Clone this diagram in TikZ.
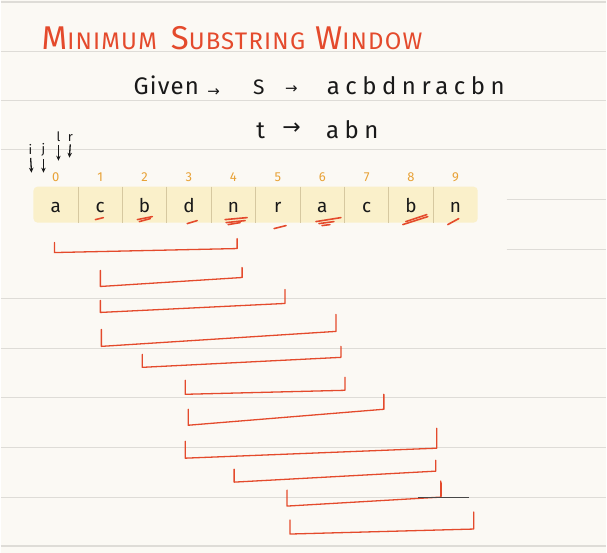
\documentclass[tikz,border=0pt]{standalone}
\usepackage{fontspec}
\setmainfont{Fira Sans}
\newfontfamily\titlefont[LetterSpace=5]{Fira Sans}
\newfontfamily\handfont[LetterSpace=5]{Fira Sans}
\newfontfamily\widehandfont[LetterSpace=23]{Fira Sans}
\newfontfamily\arrowfont{DejaVu Sans}
\usetikzlibrary{positioning, backgrounds, arrows.meta}
\definecolor{paper}{RGB}{251, 249, 244}
\definecolor{ruled}{RGB}{222, 220, 215}
\definecolor{inkred}{RGB}{228, 74, 44}
\definecolor{inkorange}{RGB}{232, 162, 55}
\definecolor{cellyellow}{RGB}{250, 240, 202}
\definecolor{celldivider}{RGB}{214, 200, 160}
\definecolor{ink}{RGB}{25, 25, 25}
\newcommand{\capword}[2]{{\fontsize{33}{33}\selectfont #1}{\fontsize{24}{24}\selectfont #2}}
\tikzset{
    titlenode/.style = {draw=none, inner sep=0pt, text=inkred, font=\titlefont},
    handtext/.style  = {draw=none, inner sep=0pt, text=ink, font=\handfont\fontsize{24}{24}\selectfont},
    widetext/.style  = {draw=none, inner sep=0pt, text=ink, font=\widehandfont\fontsize{24}{24}\selectfont},
    arrowtext/.style = {draw=none, inner sep=0pt, text=ink, font=\arrowfont\fontsize{15}{15}\selectfont},
    ptrtext/.style   = {draw=none, inner sep=0pt, text=ink, font=\fontsize{13}{13}\selectfont},
    ptrarrow/.style  = {ink, line width=1.3pt, shorten <=3pt, -{Stealth[length=5pt, width=4.5pt]}},
    cellnode/.style  = {rectangle, inner sep=0pt, outer sep=0pt, minimum width=44.5pt, minimum height=36pt,
      text height=17pt, text depth=1pt, text=ink, font=\fontsize{19}{19}\selectfont},
    indexnode/.style = {inner sep=0pt, text=inkorange, font=\fontsize{13}{13}\selectfont},
    divider/.style   = {celldivider, line width=0.8pt},
    ruledline/.style = {ruled, line width=1.1pt},
    scribble/.style  = {inkred, line width=1.6pt, line cap=round},
    bracketline/.style = {inkred, line width=1.3pt, line join=round, line cap=round},
    pencil/.style    = {ink!80, line width=0.9pt}
}

\begin{document}
\begin{tikzpicture}[x=1pt, y=-1pt]
% paper and ruling
\begin{scope}[on background layer]
\fill[paper] (0,0) rectangle (607,554);
\foreach \y in {2,52,101,150,299,349,398,448,498,547}
    \draw[ruledline] (0,\y) -- (607,\y);
\foreach \y in {200,250}
    \draw[ruledline] (507,\y) -- (607,\y);
\end{scope}
\useasboundingbox (0,0) rectangle (607,554);

% title
\node[titlenode, anchor=base west, name=title] at (41,50)
    {\capword{M}{INIMUM}\hspace{14pt}\capword{S}{UBSTRING}\hspace{10pt}\capword{W}{INDOW}};

% given strings
\node[handtext, anchor=base west, name=given] at (133,95) {Given};
\node[arrowtext, base right=8pt of given, name=arrowS] {\raisebox{-1.5pt}{→}};
\node[handtext, base right=33pt of arrowS, name=sname] {\fontsize{21}{21}\selectfont S};
\node[arrowtext, base right=20pt of sname, name=arrowSval] {\raisebox{1pt}{→}};
\node[widetext, base right=29pt of arrowSval, name=sval] {acbdnracbn};

\node[handtext, anchor=base west, name=tname] at (256,139) {t};
\node[arrowtext, base right=17pt of tname, name=arrowT] {\fontsize{22}{22}\selectfont\raisebox{4.5pt}{→}};
\node[widetext, base right=25pt of arrowT, name=tval] {abn};

% the array
\node[cellnode, name=c0] at (55.25,205) {a};
\foreach \ch [count=\i, remember=\i as \prev (initially 0)] in {c,b,d,n,r,a,c,b,n}
    \node[cellnode, right=0pt of c\prev, name=c\i] {\ch};
\begin{scope}[on background layer]
\fill[cellyellow, rounded corners=4pt] (c0.north west) rectangle (c9.south east);
\end{scope}
\foreach \i in {0,...,8}
    \draw[divider] (c\i.north east) -- (c\i.south east);
\foreach \i in {0,...,9}
    \node[indexnode, above=5pt of c\i, name=idx\i] {\i};

% pointers
\node[ptrtext, name=ptri] at (30,150) {i};
\node[ptrtext, name=ptrj] at (43,150) {j};
\node[ptrtext, name=ptrl] at (58,137) {l};
\node[ptrtext, name=ptrr] at (70,138) {r};
\coordinate (itip) at (31,173);
\coordinate (jtip) at (43,173);
\coordinate (ltip) at (58,161);
\coordinate (rtip) at (69,158);
\draw[ptrarrow] (ptri.south) -- (itip);
\draw[ptrarrow] (ptrj.south) -- (jtip);
\draw[ptrarrow] (ptrl.south) -- (ltip);
\draw[ptrarrow] (ptrr.south) -- (rtip);

% red ticks under the letters
\foreach \xa/\ya/\xb/\yb in {95/220/103/218, 137/220/152/217, 139/222/150/219, 187/224/197/221,
    225/220/247/218, 226/223/245/221, 228/225/240/223, 274/229/286/226,
    316/222/341/218, 319/224/334/222, 322/226/330/225, 403/225/428/217, 406/222/427/215, 448/225/459/219}
    \draw[scribble] (\xa,\ya) -- (\xb,\yb);

% windows
\foreach \lx/\lt/\lb/\rx/\rb/\rt in {54/243/253/237/249/239, 100/271/287/242/278/268,
    100/301/313/285/304/290, 101/330/347/336/332/315, 142/355/368/341/358/347,
    185/381/395/345/391/378, 188/410/426/384/410/395, 185/442/459/437/449/429,
    234/470/483/436/472/461, 287/491/507/441/498/482, 290/521/535/474/530/513}
    \draw[bracketline] (\lx,\lt) -- (\lx,\lb) -- (\rx,\rb) -- (\rx,\rt);
\draw[pencil] (418,498) -- (469,498);
\draw[inkred, line width=2.4pt, line cap=round] (441,484) -- (441,497);
\end{tikzpicture}
\end{document}
